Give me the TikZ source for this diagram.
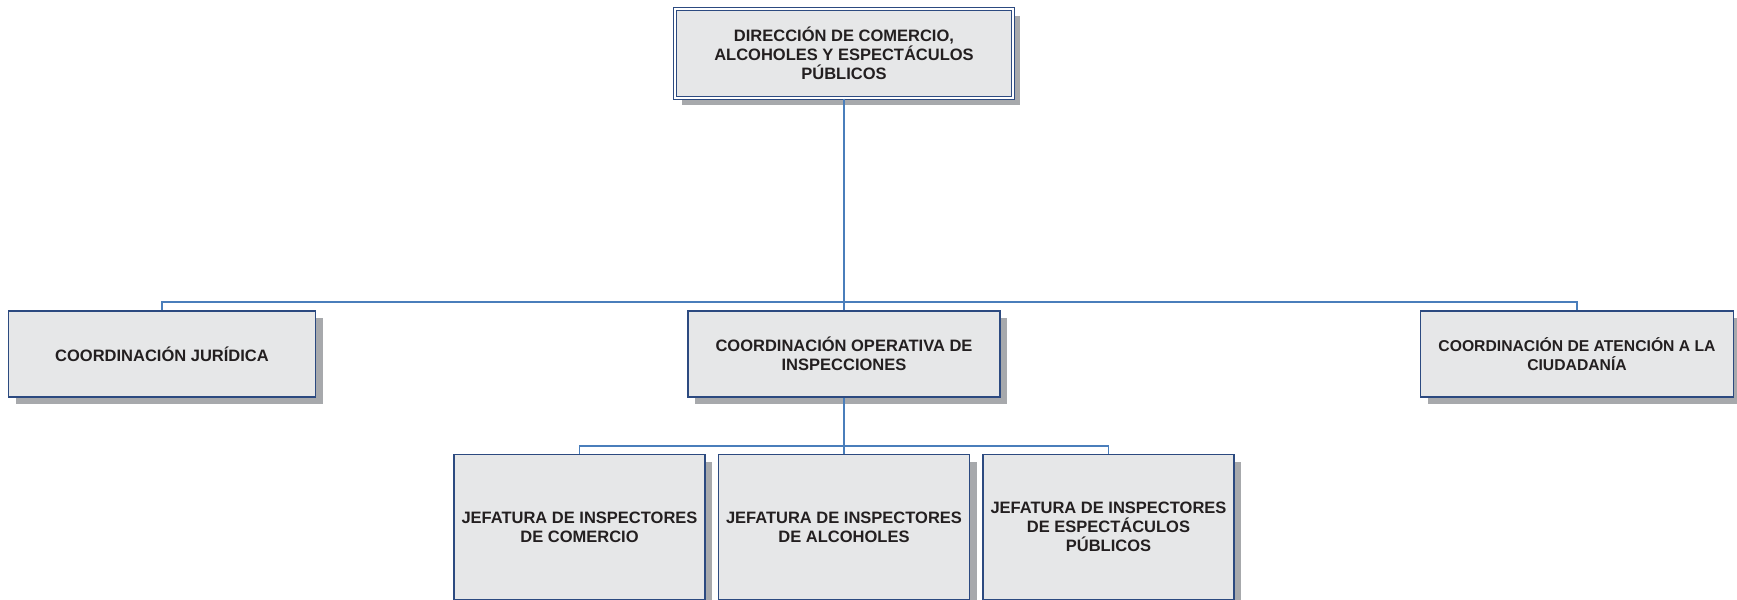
\documentclass[tikz,border=0pt]{standalone}
\usepackage{fontspec}
\setmainfont{Liberation Sans}
\usetikzlibrary{shadows}
\definecolor{borde}{HTML}{2C4A80}
\definecolor{relleno}{HTML}{E6E7E8}
\definecolor{linea}{HTML}{4A7EBB}
\definecolor{sombra}{HTML}{A7A9AC}
\definecolor{texto}{HTML}{231F20}
\tikzstyle{unidad}=[rectangle, draw=borde, fill=relleno, line width=0.6pt, text=texto,
    align=center, inner sep=0pt, font=\fontsize{8.25}{9.5}\selectfont\bfseries,
    drop shadow={shadow xshift=3.5pt, shadow yshift=-3.5pt, fill=sombra, opacity=1}]
\tikzstyle{enlace}=[draw=linea, line width=0.55pt]
\newcommand{\unidad}{\node[unidad]}

\begin{document}
\begin{tikzpicture}[x=0.5pt, y=-0.5pt]
\useasboundingbox (0,0) rectangle (1737,600);
\unidad[minimum width=169pt, minimum height=44.5pt, double=white,
    double distance=1.25pt, line width=0.5pt] (dir) at (844,53.5)
    {DIRECCIÓN DE COMERCIO,\\ALCOHOLES Y ESPECTÁCULOS\\PÚBLICOS};
\unidad[minimum width=153.5pt, minimum height=43pt] (jur) at (162,354)
    {COORDINACIÓN JURÍDICA};
\unidad[minimum width=156pt, minimum height=43pt] (ope) at (844,354)
    {COORDINACIÓN OPERATIVA DE\\INSPECCIONES};
\unidad[minimum width=156.5pt, minimum height=43pt,
    font=\fontsize{7.85}{9.2}\selectfont\bfseries] (ate) at (1577,354)
    {COORDINACIÓN DE ATENCIÓN A LA\\CIUDADANÍA};
\unidad[minimum width=125.5pt, minimum height=72.5pt] (jco) at (579.5,527)
    {JEFATURA DE INSPECTORES\\DE COMERCIO};
\unidad[minimum width=125.5pt, minimum height=72.5pt] (jal) at (844,527)
    {JEFATURA DE INSPECTORES\\DE ALCOHOLES};
\unidad[minimum width=125.5pt, minimum height=72.5pt] (jes) at (1108.5,527)
    {JEFATURA DE INSPECTORES\\DE ESPECTÁCULOS\\PÚBLICOS};
\coordinate (nivel1) at (844,302);
\coordinate (nivel2) at (844,446);
\draw[enlace] (dir.south) -- (ope.north);
\draw[enlace] (jur.north) |- (nivel1) -| (ate.north);
\draw[enlace] (ope.south) -- (jal.north);
\draw[enlace] (jco.north) |- (nivel2) -| (jes.north);
\end{tikzpicture}
\end{document}
